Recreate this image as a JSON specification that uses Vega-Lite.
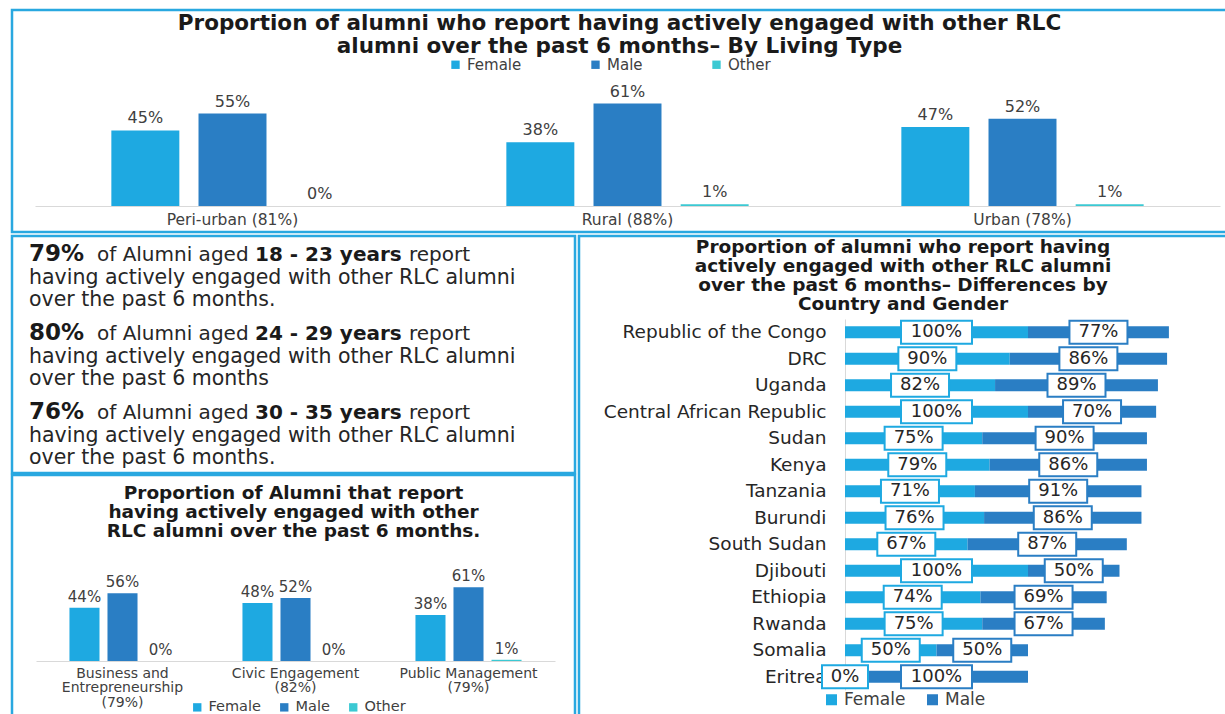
{
  "$schema": "https://vega.github.io/schema/vega-lite/v6.json",
  "background": "white",
  "padding": {"left": 10, "top": 8, "right": 0, "bottom": 0},
  "config": {
    "font": "DejaVu Sans",
    "view": {"stroke": "#29A8E0", "strokeWidth": 2.5},
    "axis": {"domainColor": "#D9D9D9", "ticks": false, "grid": false, "labelColor": "#404040", "title": null},
    "legend": {"labelColor": "#404040", "title": null},
    "title": {"color": "#1a1a1a", "fontWeight": "bold", "anchor": "middle"}
  },
  "spacing": 0,
  "resolve": {"scale": {"color": "independent", "stroke": "independent", "xOffset": "independent", "yOffset": "independent"}, "legend": {"color": "independent", "stroke": "independent"}},
  "vconcat": [
    {
      "width": 1215,
      "height": 222,
      "title": {"text": ["Proportion of alumni who report having actively engaged with other RLC", "alumni over the past 6 months– By Living Type"], "fontSize": 21.5, "lineHeight": 23, "offset": -47},
      "data": {"values": [
        {"type": "Peri-urban (81%)", "gender": "Female", "value": 0.45},
        {"type": "Peri-urban (81%)", "gender": "Male", "value": 0.55},
        {"type": "Peri-urban (81%)", "gender": "Other", "value": 0.0},
        {"type": "Rural (88%)", "gender": "Female", "value": 0.38},
        {"type": "Rural (88%)", "gender": "Male", "value": 0.61},
        {"type": "Rural (88%)", "gender": "Other", "value": 0.01},
        {"type": "Urban (78%)", "gender": "Female", "value": 0.47},
        {"type": "Urban (78%)", "gender": "Male", "value": 0.52},
        {"type": "Urban (78%)", "gender": "Other", "value": 0.01}
      ]},
      "encoding": {
        "x": {"field": "type", "type": "nominal", "sort": null, "scale": {"range": [23, 1208], "paddingInner": 0, "paddingOuter": 0}, "axis": {"offset": -26, "labelPadding": 6, "labelFontSize": 15.5, "labelAngle": 0}},
        "xOffset": {"field": "gender", "type": "nominal", "sort": ["Female", "Male", "Other"], "scale": {"paddingInner": 0.22, "paddingOuter": 0.876}},
        "y": {"field": "value", "type": "quantitative", "scale": {"domain": [0, 1], "range": [196, 28]}, "axis": null}
      },
      "layer": [
        {
          "mark": {"type": "bar"},
          "encoding": {
            "color": {"field": "gender", "type": "nominal", "scale": {"domain": ["Female", "Male", "Other"], "range": ["#1EA9E1", "#2A7EC4", "#3BC9D3"]},
              "legend": {"orient": "none", "legendX": 436, "legendY": 47, "direction": "horizontal", "symbolType": "square", "symbolSize": 70, "labelFontSize": 15, "columnPadding": 66}}
          }
        },
        {
          "mark": {"type": "text", "dy": -12, "fontSize": 16, "color": "#404040"},
          "encoding": {"text": {"field": "value", "type": "quantitative", "format": ".0%"}}
        }
      ]
    },
    {
      "spacing": 0,
      "resolve": {"scale": {"color": "independent", "stroke": "independent", "xOffset": "independent", "yOffset": "independent"}, "legend": {"color": "independent", "stroke": "independent"}},
      "hconcat": [
        {
          "spacing": -6,
          "resolve": {"scale": {"color": "independent", "xOffset": "independent", "yOffset": "independent"}, "legend": {"color": "independent"}},
          "vconcat": [
            {
              "width": 563,
              "height": 237,
              "data": {"values": [
                {"block": 1, "line": 1, "part": "pct", "text": "79%"},
                {"block": 1, "line": 1, "part": "a", "text": "of Alumni aged"},
                {"block": 1, "line": 1, "part": "b", "text": "18 - 23 years"},
                {"block": 1, "line": 1, "part": "c", "text": "report"},
                {"block": 1, "line": 2, "part": "body", "text": "having actively engaged with other RLC alumni"},
                {"block": 1, "line": 3, "part": "body", "text": "over the past 6 months."},
                {"block": 2, "line": 1, "part": "pct", "text": "80%"},
                {"block": 2, "line": 1, "part": "a", "text": "of Alumni aged"},
                {"block": 2, "line": 1, "part": "b", "text": "24 - 29 years"},
                {"block": 2, "line": 1, "part": "c", "text": "report"},
                {"block": 2, "line": 2, "part": "body", "text": "having actively engaged with other RLC alumni"},
                {"block": 2, "line": 3, "part": "body", "text": "over the past 6 months"},
                {"block": 3, "line": 1, "part": "pct", "text": "76%"},
                {"block": 3, "line": 1, "part": "a", "text": "of Alumni aged"},
                {"block": 3, "line": 1, "part": "b", "text": "30 - 35 years"},
                {"block": 3, "line": 1, "part": "c", "text": "report"},
                {"block": 3, "line": 2, "part": "body", "text": "having actively engaged with other RLC alumni"},
                {"block": 3, "line": 3, "part": "body", "text": "over the past 6 months."}
              ]},
              "encoding": {
                "y": {"field": "block", "type": "ordinal", "axis": null, "scale": {"type": "band", "paddingInner": 0, "paddingOuter": 0}},
                "yOffset": {"field": "line", "type": "ordinal", "scale": {"type": "band", "paddingInner": 0, "paddingOuter": 0.29}},
                "text": {"field": "text", "type": "nominal"}
              },
              "layer": [
                {"transform": [{"filter": "datum.part == 'body'"}], "mark": {"type": "text", "align": "left", "baseline": "middle", "fontSize": 20.5, "dy": 2, "dx": -264.5, "color": "#262626"}},
                {"transform": [{"filter": "datum.part == 'pct'"}], "mark": {"type": "text", "align": "left", "baseline": "middle", "fontSize": 23, "fontWeight": "bold", "dy": 1, "dx": -264.5, "color": "#1a1a1a"}},
                {"transform": [{"filter": "datum.part == 'a'"}], "mark": {"type": "text", "align": "left", "baseline": "middle", "fontSize": 20, "dy": 2, "dx": -196.5, "color": "#262626"}},
                {"transform": [{"filter": "datum.part == 'b'"}], "mark": {"type": "text", "align": "left", "baseline": "middle", "fontSize": 20, "fontWeight": "bold", "dy": 2, "dx": -38.5, "color": "#1a1a1a"}},
                {"transform": [{"filter": "datum.part == 'c'"}], "mark": {"type": "text", "align": "left", "baseline": "middle", "fontSize": 20, "dy": 2, "dx": 115.5, "color": "#262626"}}
              ]
            },
            {
              "width": 563,
              "height": 243,
              "title": {"text": ["Proportion of Alumni that report", "having actively engaged with other", "RLC alumni over the past 6 months."], "fontSize": 18.5, "lineHeight": 19, "offset": -65},
              "data": {"values": [
                {"field": "Business and Entrepreneurship (79%)", "gender": "Female", "value": 0.44},
                {"field": "Business and Entrepreneurship (79%)", "gender": "Male", "value": 0.56},
                {"field": "Business and Entrepreneurship (79%)", "gender": "Other", "value": 0.0},
                {"field": "Civic Engagement (82%)", "gender": "Female", "value": 0.48},
                {"field": "Civic Engagement (82%)", "gender": "Male", "value": 0.52},
                {"field": "Civic Engagement (82%)", "gender": "Other", "value": 0.0},
                {"field": "Public Management (79%)", "gender": "Female", "value": 0.38},
                {"field": "Public Management (79%)", "gender": "Male", "value": 0.61},
                {"field": "Public Management (79%)", "gender": "Other", "value": 0.01}
              ]},
              "encoding": {
                "x": {"field": "field", "type": "nominal", "sort": null, "scale": {"range": [24, 543], "paddingInner": 0, "paddingOuter": 0},
                  "axis": {"offset": -57, "labelPadding": 5, "labelFontSize": 14, "labelLineHeight": 14.5, "labelAngle": 0, "labelBaseline": "top",
                    "labelExpr": "datum.label == 'Business and Entrepreneurship (79%)' ? ['Business and', 'Entrepreneurship', '(79%)'] : split(replace(datum.label, ' (', '|('), '|')"}},
                "xOffset": {"field": "gender", "type": "nominal", "sort": ["Female", "Male", "Other"], "scale": {"paddingInner": 0.21, "paddingOuter": 0.88}},
                "y": {"field": "value", "type": "quantitative", "scale": {"domain": [0, 1], "range": [186, 65]}, "axis": null}
              },
              "layer": [
                {
                  "mark": {"type": "bar"},
                  "encoding": {
                    "color": {"field": "gender", "type": "nominal", "scale": {"domain": ["Female", "Male", "Other"], "range": ["#1EA9E1", "#2A7EC4", "#3BC9D3"]},
                      "legend": {"orient": "none", "legendX": 178, "legendY": 225, "direction": "horizontal", "symbolType": "square", "symbolSize": 70, "labelFontSize": 14.5, "columnPadding": 16}}
                  }
                },
                {
                  "mark": {"type": "text", "dy": -11, "fontSize": 15, "color": "#404040"},
                  "encoding": {"text": {"field": "value", "type": "quantitative", "format": ".0%"}}
                }
              ]
            }
          ]
        },
        {
          "width": 648,
          "height": 485,
          "title": {"text": ["Proportion of alumni who report having", "actively engaged with other RLC alumni", "over the past 6 months– Differences by", "Country and Gender"], "fontSize": 18.5, "lineHeight": 19, "offset": -77},
          "data": {"values": [
            {"country": "Republic of the Congo", "gender": "Female", "value": 1.0},
            {"country": "Republic of the Congo", "gender": "Male", "value": 0.77},
            {"country": "DRC", "gender": "Female", "value": 0.9},
            {"country": "DRC", "gender": "Male", "value": 0.86},
            {"country": "Uganda", "gender": "Female", "value": 0.82},
            {"country": "Uganda", "gender": "Male", "value": 0.89},
            {"country": "Central African Republic", "gender": "Female", "value": 1.0},
            {"country": "Central African Republic", "gender": "Male", "value": 0.7},
            {"country": "Sudan", "gender": "Female", "value": 0.75},
            {"country": "Sudan", "gender": "Male", "value": 0.9},
            {"country": "Kenya", "gender": "Female", "value": 0.79},
            {"country": "Kenya", "gender": "Male", "value": 0.86},
            {"country": "Tanzania", "gender": "Female", "value": 0.71},
            {"country": "Tanzania", "gender": "Male", "value": 0.91},
            {"country": "Burundi", "gender": "Female", "value": 0.76},
            {"country": "Burundi", "gender": "Male", "value": 0.86},
            {"country": "South Sudan", "gender": "Female", "value": 0.67},
            {"country": "South Sudan", "gender": "Male", "value": 0.87},
            {"country": "Djibouti", "gender": "Female", "value": 1.0},
            {"country": "Djibouti", "gender": "Male", "value": 0.5},
            {"country": "Ethiopia", "gender": "Female", "value": 0.74},
            {"country": "Ethiopia", "gender": "Male", "value": 0.69},
            {"country": "Rwanda", "gender": "Female", "value": 0.75},
            {"country": "Rwanda", "gender": "Male", "value": 0.67},
            {"country": "Somalia", "gender": "Female", "value": 0.5},
            {"country": "Somalia", "gender": "Male", "value": 0.5},
            {"country": "Eritrea", "gender": "Female", "value": 0.0},
            {"country": "Eritrea", "gender": "Male", "value": 1.0}
          ]},
          "encoding": {
            "y": {"field": "country", "type": "nominal",
              "sort": ["Republic of the Congo", "DRC", "Uganda", "Central African Republic", "Sudan", "Kenya", "Tanzania", "Burundi", "South Sudan", "Djibouti", "Ethiopia", "Rwanda", "Somalia", "Eritrea"],
              "scale": {"type": "band", "range": [83, 454], "paddingInner": 0.54, "paddingOuter": 0.27},
              "axis": {"offset": -266, "labelPadding": 19, "labelFontSize": 18.5, "labelLimit": 400, "labelColor": "#262626", "domainColor": "#D9D9D9"}}
          },
          "layer": [
            {
              "mark": {"type": "bar"},
              "encoding": {
                "x": {"field": "value", "type": "quantitative", "stack": "zero", "scale": {"domain": [0, 2], "range": [266, 632]}, "axis": null},
                "color": {"field": "gender", "type": "nominal", "scale": {"domain": ["Female", "Male"], "range": ["#1EA9E1", "#2A7EC4"]},
                  "legend": {"orient": "none", "legendX": 244, "legendY": 455, "direction": "horizontal", "symbolType": "square", "symbolSize": 90, "labelFontSize": 17, "columnPadding": 18}}
              }
            },
            {
              "transform": [
                {"stack": "value", "groupby": ["country"], "sort": [{"field": "gender", "order": "ascending"}], "as": ["x0", "x1"]},
                {"fold": ["x0", "x1"], "as": ["edge", "pos"]},
                {"aggregate": [{"op": "mean", "field": "pos", "as": "mid"}], "groupby": ["country", "gender", "value"]}
              ],
              "layer": [
                {
                  "mark": {"type": "point", "filled": true, "fill": "white", "fillOpacity": 1, "strokeWidth": 2, "opacity": 1},
                  "encoding": {
                    "x": {"field": "mid", "type": "quantitative"},
                    "stroke": {"field": "gender", "type": "nominal", "scale": {"domain": ["Female", "Male"], "range": ["#1EA9E1", "#2A7EC4"]}, "legend": null},
                    "shape": {"condition": [{"test": "datum.value >= 1", "value": "M-1,-0.324H1V0.324H-1Z"}, {"test": "datum.value < 0.1", "value": "M-1,-0.5H1V0.5H-1Z"}], "value": "M-1,-0.397H1V0.397H-1Z"},
                    "size": {"condition": [{"test": "datum.value >= 1", "value": 5041}, {"test": "datum.value < 0.1", "value": 2116}], "value": 3364}
                  }
                },
                {
                  "mark": {"type": "text", "fontSize": 18, "color": "#262626"},
                  "encoding": {
                    "x": {"field": "mid", "type": "quantitative"},
                    "text": {"field": "value", "type": "quantitative", "format": ".0%"}
                  }
                }
              ]
            }
          ]
        }
      ]
    }
  ]
}
